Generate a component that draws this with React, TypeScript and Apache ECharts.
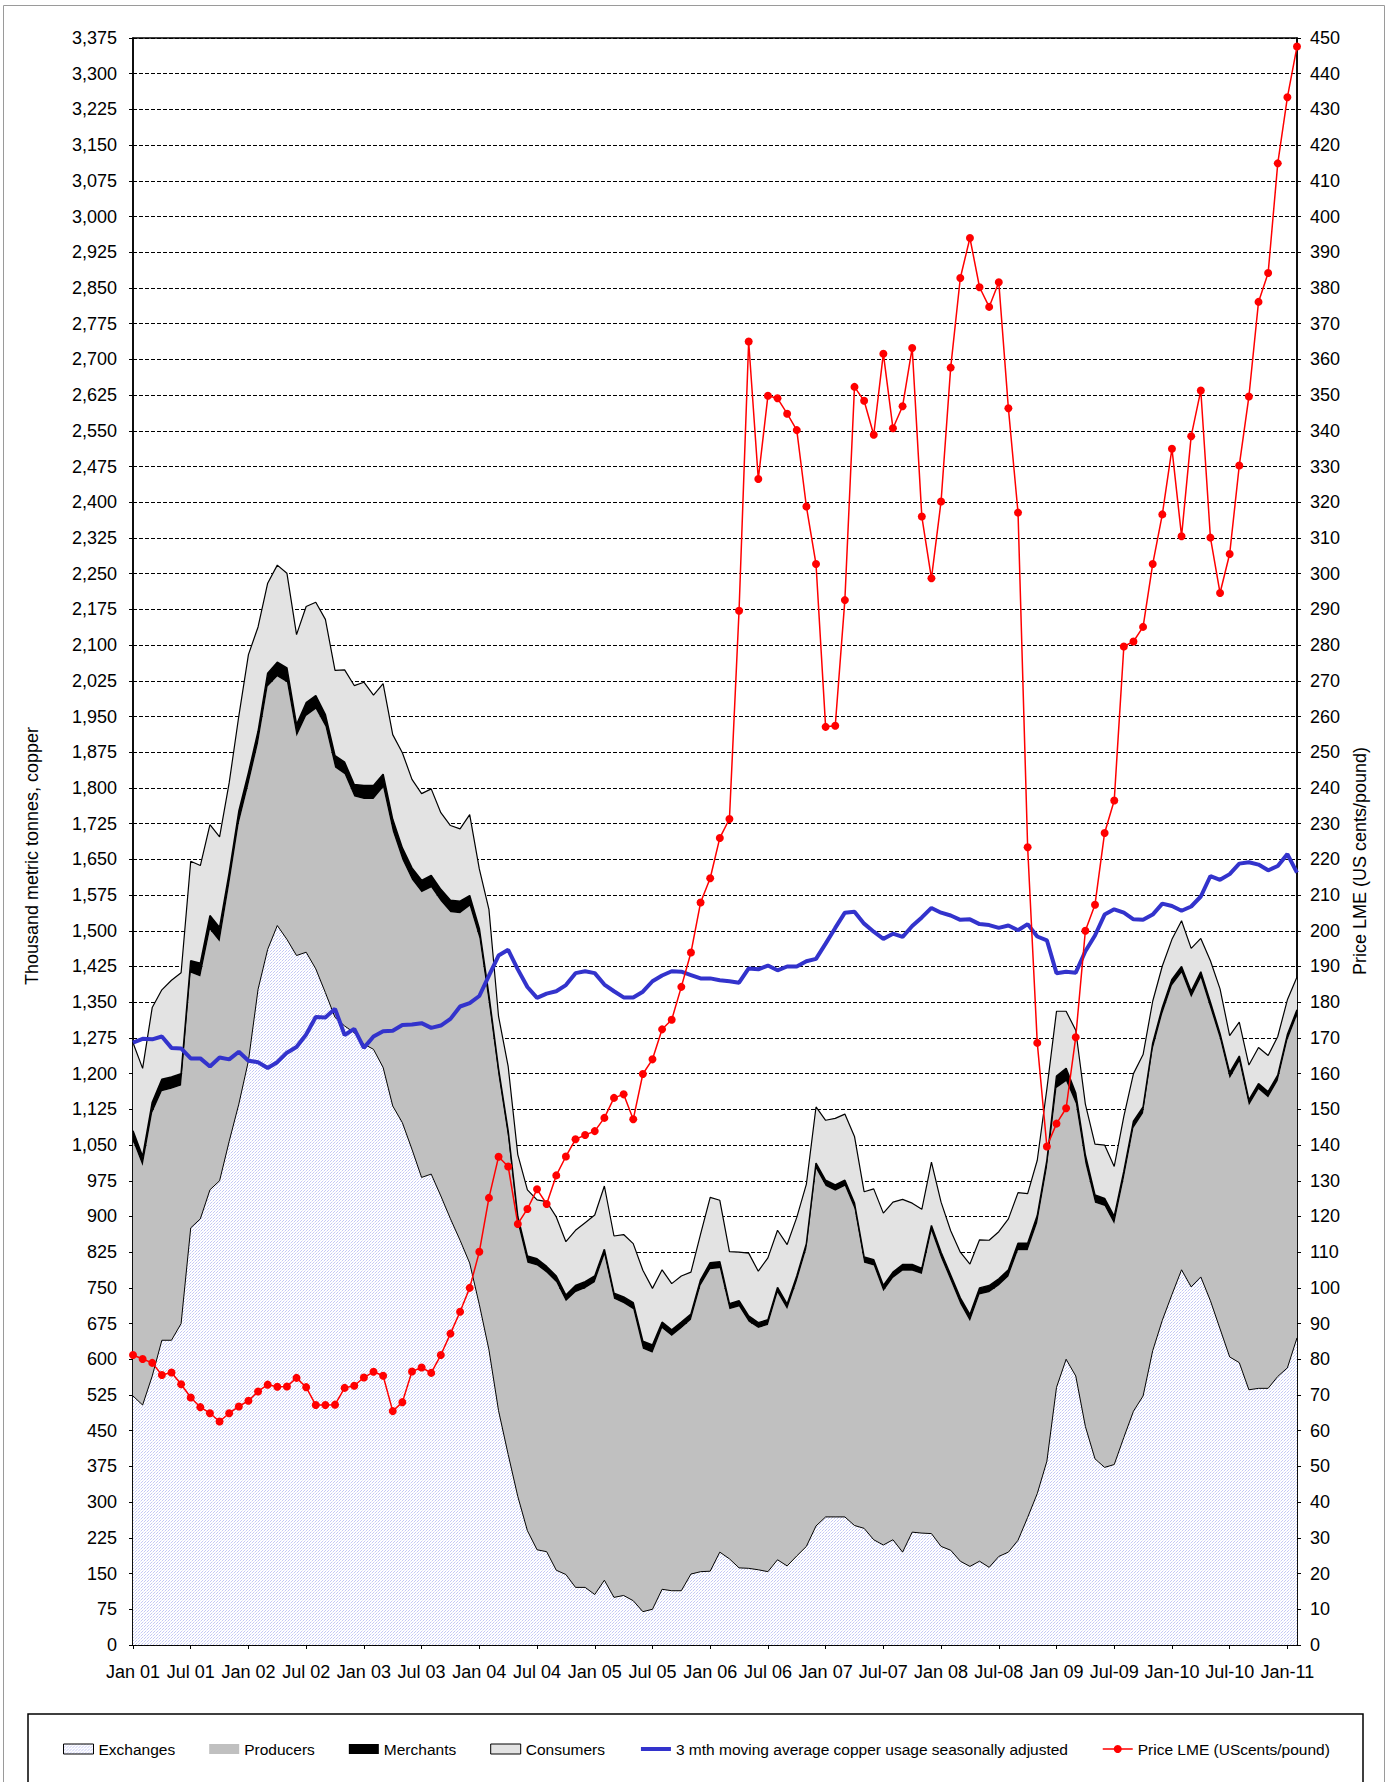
import React, { useEffect, useRef } from "react";
import * as echarts from "echarts";

const monthNames = ["Jan", "Feb", "Mar", "Apr", "May", "Jun", "Jul", "Aug", "Sep", "Oct", "Nov", "Dec"];
const tickLabels = [
  "Jan 01", "Jul 01", "Jan 02", "Jul 02", "Jan 03", "Jul 03", "Jan 04", "Jul 04", "Jan 05", "Jul 05",
  "Jan 06", "Jul 06", "Jan 07", "Jul-07", "Jan 08", "Jul-08", "Jan 09", "Jul-09", "Jan-10", "Jul-10", "Jan-11",
];
const categories = Array.from({ length: 122 }, (_, i) =>
  i % 6 === 0 ? tickLabels[i / 6] : `${monthNames[i % 12]} ${String(1 + Math.floor(i / 12)).padStart(2, "0")}`
);

const exchanges = [
  523, 504, 565, 640, 640, 675, 876, 895, 956, 975,
  1058, 1136, 1227, 1377, 1461, 1511, 1482, 1448, 1455, 1420,
  1370, 1318, 1300, 1286, 1262, 1251, 1213, 1132, 1097, 1041,
  982, 989, 943, 895, 850, 802, 715, 620, 492, 400,
  312, 240, 200, 196, 157, 148, 121, 121, 106, 136,
  100, 104, 93, 70, 75, 117, 114, 114, 149, 154,
  155, 195, 181, 162, 161, 158, 154, 179, 166, 187,
  207, 250, 269, 269, 269, 251, 245, 221, 210, 221,
  195, 237, 235, 234, 207, 199, 176, 165, 176, 163,
  186, 195, 220, 268, 318, 386, 541, 600, 565, 459,
  391, 373, 379, 436, 491, 523, 618, 682, 736, 788,
  752, 773, 723, 664, 605, 593, 536, 539, 539, 564,
  582, 645,
];
const producers = [
  535, 502, 553, 523, 528, 500, 536, 509, 546, 502,
  539, 590, 580, 517, 552, 523, 540, 460, 496, 546,
  559, 525, 529, 496, 515, 526, 588, 577, 552, 566,
  599, 602, 619, 644, 687, 750, 770, 727, 703, 665,
  573, 563, 597, 586, 605, 574, 620, 628, 656, 683,
  627, 614, 612, 552, 539, 548, 535, 551, 534, 601,
  634, 596, 524, 549, 518, 508, 518, 561, 539, 577,
  625, 750, 695, 685, 695, 665, 558, 576, 533, 550,
  591, 549, 544, 635, 606, 566, 540, 515, 560, 578,
  569, 579, 609, 561, 569, 616, 629, 584, 572, 552,
  538, 549, 505, 544, 595, 594, 633, 644, 649, 624,
  608, 628, 614, 608, 585, 632, 597, 628, 611, 621,
  688, 677,
];
const merchants = [
  22, 20, 22, 25, 25, 25, 25, 28, 30, 30,
  25, 25, 25, 25, 28, 30, 30, 25, 28, 28,
  25, 25, 25, 25, 28, 28, 28, 25, 25, 25,
  25, 25, 25, 25, 25, 22, 20, 18, 15, 15,
  15, 14, 14, 13, 13, 13, 14, 14, 13, 12,
  12, 13, 14, 16, 16, 13, 13, 13, 12, 12,
  14, 14, 12, 12, 12, 11, 11, 11, 11, 11,
  11, 12, 12, 12, 12, 12, 12, 12, 12, 12,
  13, 13, 12, 12, 12, 12, 13, 14, 14, 14,
  14, 14, 15, 15, 15, 16, 25, 27, 22, 18,
  16, 16, 16, 15, 14, 13, 13, 13, 13, 13,
  13, 13, 13, 12, 12, 12, 12, 12, 12, 12,
  12, 12,
];
const consumers = [
  185, 185, 199, 188, 203, 212, 209, 205, 191, 190,
  189, 200, 248, 219, 189, 204, 199, 189, 202, 196,
  200, 179, 194, 208, 217, 190, 190, 178, 200, 186,
  182, 182, 161, 157, 152, 170, 125, 180, 110, 135,
  130, 139, 124, 136, 124, 112, 116, 124, 128, 133,
  120, 131, 124, 149, 119, 110, 97, 97, 88, 96,
  137, 129, 109, 102, 132, 108, 130, 120, 125, 123,
  125, 118, 126, 140, 139, 140, 137, 149, 152, 147,
  137, 129, 124, 133, 105, 93, 96, 106, 101, 95,
  99, 107, 106, 104, 116, 150, 136, 120, 132, 107,
  107, 112, 105, 115, 100, 110, 88, 87, 84, 96,
  90, 70, 87, 94, 78, 71, 73, 76, 76, 81,
  73, 69,
];
const usage = [
  1265, 1273, 1272, 1278, 1254, 1253, 1232, 1232, 1215, 1234,
  1230, 1246, 1227, 1224, 1212, 1224, 1244, 1256, 1282, 1319,
  1318, 1336, 1281, 1294, 1254, 1278, 1289, 1290, 1302, 1303,
  1306, 1296, 1301, 1315, 1341, 1348, 1363, 1406, 1448, 1460,
  1419, 1382, 1359, 1368, 1373, 1386, 1411, 1415, 1411, 1387,
  1373, 1360, 1360, 1372, 1394, 1406, 1415, 1414, 1407, 1400,
  1400, 1396, 1394, 1391, 1421, 1419, 1427, 1417, 1425, 1425,
  1436, 1441, 1473, 1506, 1538, 1540, 1515, 1498, 1483, 1494,
  1487, 1510, 1528, 1548, 1538, 1532, 1523, 1524, 1514, 1512,
  1506, 1511, 1501, 1514, 1488, 1480, 1411, 1414, 1412, 1457,
  1490, 1534, 1545, 1538, 1524, 1523, 1534, 1557, 1552, 1542,
  1551, 1572, 1615, 1607, 1619, 1641, 1644, 1639, 1627, 1636,
  1661, 1622,
];
const price = [
  81.2, 80.1, 79.0, 75.6, 76.3, 73.0, 69.3, 66.6, 64.9, 62.6,
  64.9, 66.8, 68.4, 71.0, 72.9, 72.3, 72.4, 74.8, 72.2, 67.2,
  67.2, 67.3, 72.0, 72.6, 74.9, 76.5, 75.4, 65.5, 68.0, 76.6,
  77.7, 76.2, 81.2, 87.2, 93.3, 100.0, 110.1, 125.2, 136.7, 134.0,
  117.9, 122.1, 127.6, 123.5, 131.5, 136.8, 141.6, 142.8, 143.9, 147.6,
  153.2, 154.2, 147.2, 159.9, 164.0, 172.4, 175.1, 184.3, 193.9, 207.9,
  214.7, 226.0, 231.3, 289.6, 365.0, 326.5, 349.8, 349.1, 344.8, 340.2,
  318.8, 302.7, 257.1, 257.4, 292.6, 352.3, 348.4, 338.9, 361.6, 340.7,
  346.9, 363.2, 316.0, 298.7, 320.2, 357.7, 382.8, 394.0, 380.2, 374.7,
  381.6, 346.3, 317.1, 223.4, 168.6, 139.6, 146.0, 150.3, 170.2, 200.0,
  207.3, 227.4, 236.5, 279.6, 281.0, 285.1, 302.7, 316.6, 335.0, 310.5,
  338.5, 351.3, 310.1, 294.6, 305.5, 330.3, 349.6, 376.1, 384.2, 414.9,
  433.4, 447.6,
];

const FONT = "'Liberation Sans', Arial, sans-serif";
const USAGE_NAME = "3 mth moving average copper usage seasonally adjusted";
const PRICE_NAME = "Price LME (UScents/pound)";

function makePattern() {
  const c = document.createElement("canvas");
  c.width = 3;
  c.height = 3;
  const ctx = c.getContext("2d")!;
  ctx.fillStyle = "#ffffff";
  ctx.fillRect(0, 0, 3, 3);
  ctx.fillStyle = "#c4c8f4";
  ctx.fillRect(0, 0, 1, 1);
  ctx.fillRect(1, 2, 1, 1);
  ctx.fillStyle = "#e4e6fa";
  ctx.fillRect(2, 1, 1, 1);
  return { image: c, repeat: "repeat", imageWidth: 3, imageHeight: 3 } as any;
}

export default function App() {
  const ref = useRef<HTMLDivElement>(null);
  useEffect(() => {
    if (!ref.current) return;
    const chart = echarts.init(ref.current, undefined, { renderer: "svg" });
    const pattern = makePattern();
    const areaBase = { type: "line", stack: "stocks", symbol: "none", showSymbol: false, yAxisIndex: 0 };
    chart.setOption({
      animation: false,
      backgroundColor: "#ffffff",
      textStyle: { fontFamily: FONT, color: "#000" },
      grid: { left: 133, right: 97, top: 38, bottom: 137, show: true, borderColor: "#000", borderWidth: 1.5, containLabel: false },
      xAxis: {
        type: "category",
        data: categories,
        boundaryGap: false,
        axisLine: { lineStyle: { color: "#000", width: 1.5 } },
        axisTick: { show: true, interval: 5, length: 4, lineStyle: { color: "#000" } },
        axisLabel: { interval: 5, fontSize: 18, color: "#000", margin: 18, fontFamily: FONT },
        splitLine: { show: false },
      },
      yAxis: [
        {
          type: "value",
          min: 0,
          max: 3375,
          interval: 75,
          axisLine: { show: true, lineStyle: { color: "#000", width: 1.5 } },
          axisTick: { show: true, length: 4, lineStyle: { color: "#000" } },
          axisLabel: {
            fontSize: 18,
            color: "#000",
            margin: 16,
            fontFamily: FONT,
            formatter: (v: number) => v.toLocaleString("en-US"),
          },
          splitLine: { show: true, lineStyle: { color: "#000", width: 1, type: [4, 2] } },
        },
        {
          type: "value",
          min: 0,
          max: 450,
          interval: 10,
          position: "right",
          axisLine: { show: true, lineStyle: { color: "#000", width: 1.5 } },
          axisTick: { show: true, length: 4, lineStyle: { color: "#000" } },
          axisLabel: { fontSize: 18, color: "#000", margin: 13, fontFamily: FONT },
          splitLine: { show: false },
        },
      ],
      legend: {
        left: 58,
        top: 1736,
        itemWidth: 30,
        itemHeight: 10,
        itemGap: 34,
        textStyle: { fontSize: 15.5, color: "#000", fontFamily: FONT },
        data: [
          { name: "Exchanges", icon: "rect", itemStyle: { color: pattern, borderColor: "#000", borderWidth: 1 } },
          { name: "Producers", icon: "rect", itemStyle: { color: "#c0c0c0", borderWidth: 0 } },
          { name: "Merchants", icon: "rect", itemStyle: { color: "#000", borderWidth: 0 } },
          { name: "Consumers", icon: "rect", itemStyle: { color: "#e3e3e3", borderColor: "#000", borderWidth: 1 } },
          { name: USAGE_NAME, itemStyle: { color: "rgba(0,0,0,0)", borderWidth: 0 }, lineStyle: { width: 4, color: "#3333cc" } },
          { name: PRICE_NAME, lineStyle: { width: 1.5, color: "#ff0000" } },
        ],
      },
      graphic: [
        { type: "rect", silent: true, shape: { x: 3.5, y: 5.5, width: 1381, height: 1800 }, style: { fill: "none", stroke: "#9a9a9a", lineWidth: 1 } },
        { type: "rect", silent: true, shape: { x: 28, y: 1714, width: 1335, height: 100 }, style: { fill: "none", stroke: "#000", lineWidth: 1.5 } },
        {
          type: "text",
          x: 32,
          y: 856,
          rotation: Math.PI / 2,
          style: { text: "Thousand metric tonnes, copper", fontSize: 18, fontFamily: FONT, fill: "#000", align: "center", verticalAlign: "middle", textAlign: "center", textVerticalAlign: "middle" },
        },
        {
          type: "text",
          x: 1360,
          y: 861,
          rotation: Math.PI / 2,
          style: { text: "Price LME (US cents/pound)", fontSize: 18, fontFamily: FONT, fill: "#000", align: "center", verticalAlign: "middle", textAlign: "center", textVerticalAlign: "middle" },
        },
      ],
      series: [
        { ...areaBase, name: "Exchanges", data: exchanges, itemStyle: { color: "#ffffff" }, lineStyle: { color: "#000", width: 1 }, areaStyle: { color: pattern, opacity: 1 }, z: 2 },
        { ...areaBase, name: "Producers", data: producers, itemStyle: { color: "#c0c0c0" }, lineStyle: { width: 0, color: "#c0c0c0" }, areaStyle: { color: "#c0c0c0", opacity: 1 }, z: 2 },
        { ...areaBase, name: "Merchants", data: merchants, itemStyle: { color: "#000" }, lineStyle: { width: 1.5, color: "#000" }, areaStyle: { color: "#000", opacity: 1 }, z: 2 },
        { ...areaBase, name: "Consumers", data: consumers, itemStyle: { color: "#e3e3e3" }, lineStyle: { width: 1.2, color: "#000" }, areaStyle: { color: "#e3e3e3", opacity: 1 }, z: 2 },
        {
          type: "line",
          name: USAGE_NAME,
          data: usage,
          yAxisIndex: 0,
          symbol: "none",
          showSymbol: false,
          itemStyle: { color: "#3333cc" },
          lineStyle: { color: "#3333cc", width: 4 },
          z: 3,
        },
        {
          type: "line",
          name: PRICE_NAME,
          data: price,
          yAxisIndex: 1,
          symbol: "circle",
          symbolSize: 8,
          showSymbol: true,
          showAllSymbol: true,
          itemStyle: { color: "#ff0000" },
          lineStyle: { color: "#ff0000", width: 1.5 },
          z: 4,
        },
      ],
    });
    return () => chart.dispose();
  }, []);
  return <div ref={ref} style={{ position: "absolute", left: 0, top: 0, width: 1394, height: 1782 }} />;
}
